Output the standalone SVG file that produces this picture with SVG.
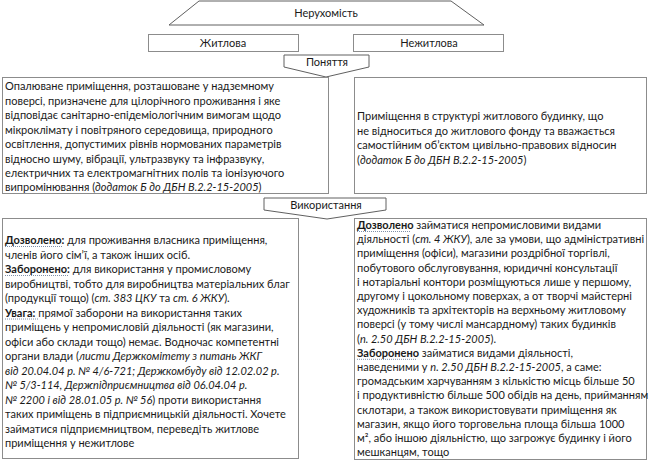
<svg xmlns="http://www.w3.org/2000/svg" width="650" height="461" viewBox="0 0 650 461">
<style>
.box{fill:#fff;stroke:#8c8c8c;stroke-width:1}
.shape{fill:#fff;stroke:#606060;stroke-width:1}
text{font-family:Lato,"Open Sans","Liberation Sans",sans-serif;font-size:11px;fill:#1a1a1a}
.c{text-anchor:middle}
.i{font-style:italic}
.b{font-weight:bold}
.dot{stroke:#8090a8;stroke-width:1;stroke-dasharray:1,1;fill:none}
</style>
<rect width="650" height="461" fill="#fff"/>
<g id="nerukhomist">
<polygon class="shape" points="199,1 451,1 484,25 169,25"/>
<text class="c" x="326" y="17">Нерухомість</text>
</g>
<g id="zhytlova">
<rect class="box" x="148.5" y="34.5" width="150" height="17"/>
<text class="c" x="223" y="47">Житлова</text>
</g>
<g id="nezhytlova">
<rect class="box" x="353.5" y="34.5" width="150" height="17"/>
<text class="c" x="429" y="47">Нежитлова</text>
</g>
<g id="ponyattia">
<polygon class="shape" points="284,55 369,55 369,67 326,77 284,67"/>
<text class="c" x="327" y="66">Поняття</text>
</g>
<g id="def-zhytlova">
<rect class="box" x="2.5" y="77.5" width="326" height="116"/>
<text x="5" y="90">Опалюване приміщення, розташоване у надземному</text>
<text x="5" y="104.5">поверсі, призначене для цілорічного проживання і яке</text>
<text x="5" y="119">відповідає санітарно-епідеміологічним вимогам щодо</text>
<text x="5" y="133.5">мікроклімату і повітряного середовища, природного</text>
<text x="5" y="148">освітлення, допустимих рівнів нормованих параметрів</text>
<text x="5" y="162.5">відносно шуму, вібрації, ультразвуку та інфразвуку,</text>
<text x="5" y="177">електричних та електромагнітних полів та іонізуючого</text>
<text x="5" y="191">випромінювання (<tspan class="i">додаток Б до ДБН В.2.2-15-2005</tspan>)</text>
</g>
<g id="def-nezhytlova">
<rect class="box" x="354.5" y="77.5" width="292" height="116"/>
<text x="357" y="120">Приміщення в структурі житлового будинку, що</text>
<text x="357" y="134.5">не відноситься до житлового фонду та вважається</text>
<text x="357" y="149">самостійним об’єктом цивільно-правових відносин</text>
<text x="357" y="163.5">(<tspan class="i">додаток Б до ДБН В.2.2-15-2005</tspan>)</text>
</g>
<g id="vykorystannia">
<polygon class="shape" points="264,198 386,198 386,210 327,219 264,210"/>
<text class="c" x="326" y="209">Використання</text>
</g>
<g id="use-zhytlova">
<rect class="box" x="2.5" y="218.5" width="296" height="240"/>
<text x="5" y="244"><tspan class="b">Дозволено:</tspan> для проживання власника приміщення,</text>
<text x="5" y="258.5">членів його сім’ї, а також інших осіб.</text>
<text x="5" y="273"><tspan class="b">Заборонено:</tspan> для використання у промисловому</text>
<text x="5" y="287.5">виробництві, тобто для виробництва матеріальних благ</text>
<text x="5" y="302">(продукції тощо) (<tspan class="i">ст. 383 ЦКУ</tspan> та <tspan class="i">ст. 6 ЖКУ</tspan>).</text>
<text x="5" y="316.5"><tspan class="b">Увага:</tspan> прямої заборони на використання таких</text>
<text x="5" y="331">приміщень у непромисловій діяльності (як магазини,</text>
<text x="5" y="345.5">офіси або склади тощо) немає. Водночас компетентні</text>
<text x="5" y="360">органи влади (<tspan class="i">листи Держкомітету з питань ЖКГ</tspan></text>
<text x="5" y="374.5" class="i">від 20.04.04 р. № 4/6-721; Держкомбуду від 12.02.02 р.</text>
<text x="5" y="389" class="i">№ 5/3-114, Держпідприємництва від 06.04.04 р.</text>
<text x="5" y="403.5"><tspan class="i">№ 2200 і від 28.01.05 р. № 56</tspan>) проти використання</text>
<text x="5" y="418">таких приміщень в підприємницькій діяльності. Хочете</text>
<text x="5" y="432.5">займатися підприємництвом, переведіть житлове</text>
<text x="5" y="447">приміщення у нежитлове</text>
<path class="dot" d="M5,246.5H63 M5,275.5H68 M5,319H38"/>
</g>
<g id="use-nezhytlova">
<rect class="box" x="354.5" y="218.5" width="292" height="241"/>
<text x="357" y="229"><tspan class="b">Дозволено</tspan> займатися непромисловими видами</text>
<text x="357" y="243.2">діяльності (<tspan class="i">ст. 4 ЖКУ</tspan>), але за умови, що адміністративні</text>
<text x="357" y="257.4">приміщення (офіси), магазини роздрібної торгівлі,</text>
<text x="357" y="271.6">побутового обслуговування, юридичні консультації</text>
<text x="357" y="285.8">і нотаріальні контори розміщуються лише у першому,</text>
<text x="357" y="300">другому і цокольному поверхах, а от творчі майстерні</text>
<text x="357" y="314.2">художників та архітекторів на верхньому житловому</text>
<text x="357" y="328.4">поверсі (у тому числі мансардному) таких будинків</text>
<text x="357" y="342.6">(<tspan class="i">п. 2.50 ДБН В.2.2-15-2005</tspan>).</text>
<text x="357" y="356.8"><tspan class="b">Заборонено</tspan> займатися видами діяльності,</text>
<text x="357" y="371">наведеними у <tspan class="i">п. 2.50 ДБН В.2.2-15-2005</tspan>, а саме:</text>
<text x="357" y="385.2">громадським харчуванням з кількістю місць більше 50</text>
<text x="357" y="399.4">і продуктивністю більше 500 обідів на день, прийманням</text>
<text x="357" y="413.6">склотари, а також використовувати приміщення як</text>
<text x="357" y="427.8">магазин, якщо його торговельна площа більша 1000</text>
<text x="357" y="442">м², або іншою діяльністю, що загрожує будинку і його</text>
<text x="357" y="456.2">мешканцям, тощо</text>
<path class="dot" d="M357,231.5H410 M357,359.3H416"/>
</g>
</svg>
